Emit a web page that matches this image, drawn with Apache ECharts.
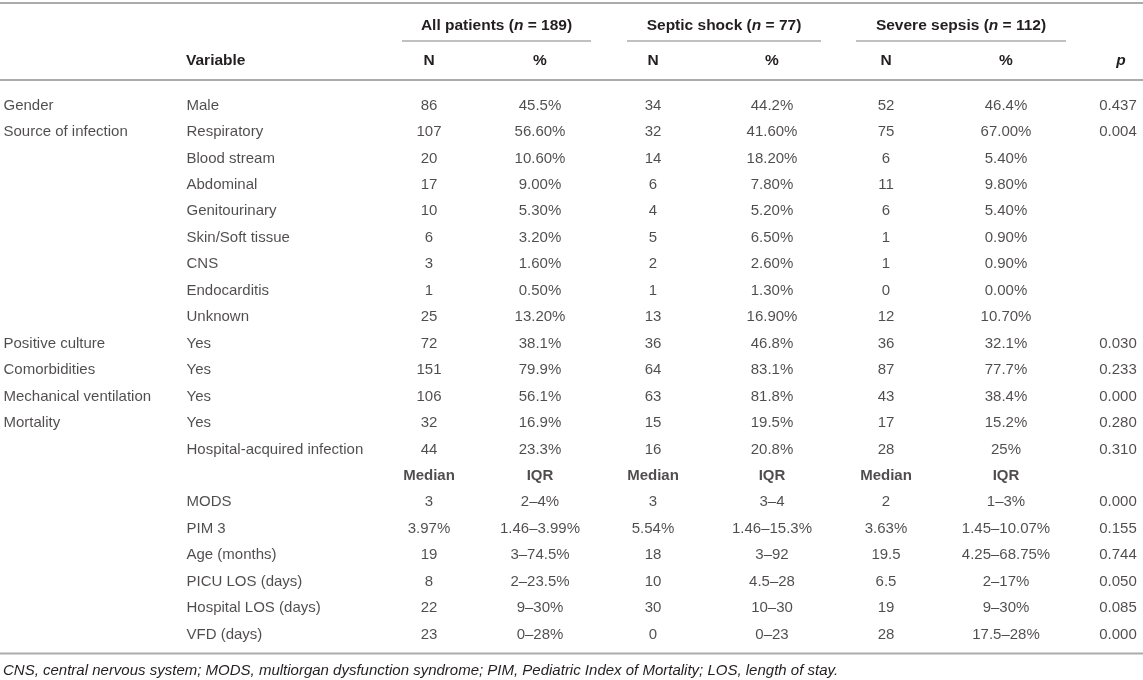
<!DOCTYPE html>
<html>
<head>
<meta charset="utf-8">
<script src="https://cdn.jsdelivr.net/npm/echarts@6/dist/echarts.min.js"></script>
<style>
html,body{margin:0;padding:0;background:#fff;}
#chart{width:1143px;height:680px;}
</style>
</head>
<body>
<div id="chart"></div>
<script>
// ---- data ----
const groupLabels = ['Gender','Source of infection','','','','','','','','Positive culture','Comorbidities','Mechanical ventilation','Mortality','','','','','','','',''];
const variables = ['Male','Respiratory','Blood stream','Abdominal','Genitourinary','Skin/Soft tissue','CNS','Endocarditis','Unknown','Yes','Yes','Yes','Yes','Hospital-acquired infection','','MODS','PIM 3','Age (months)','PICU LOS (days)','Hospital LOS (days)','VFD (days)'];
const allN = ['86','107','20','17','10','6','3','1','25','72','151','106','32','44','Median','3','3.97%','19','8','22','23'];
const allPct = ['45.5%','56.60%','10.60%','9.00%','5.30%','3.20%','1.60%','0.50%','13.20%','38.1%','79.9%','56.1%','16.9%','23.3%','IQR','2–4%','1.46–3.99%','3–74.5%','2–23.5%','9–30%','0–28%'];
const shockN = ['34','32','14','6','4','5','2','1','13','36','64','63','15','16','Median','3','5.54%','18','10','30','0'];
const shockPct = ['44.2%','41.60%','18.20%','7.80%','5.20%','6.50%','2.60%','1.30%','16.90%','46.8%','83.1%','81.8%','19.5%','20.8%','IQR','3–4','1.46–15.3%','3–92','4.5–28','10–30','0–23'];
const severeN = ['52','75','6','11','6','1','1','0','12','36','87','43','17','28','Median','2','3.63%','19.5','6.5','19','28'];
const severePct = ['46.4%','67.00%','5.40%','9.80%','5.40%','0.90%','0.90%','0.00%','10.70%','32.1%','77.7%','38.4%','15.2%','25%','IQR','1–3%','1.45–10.07%','4.25–68.75%','2–17%','9–30%','17.5–28%'];
const pValues = ['0.437','0.004','','','','','','','','0.030','0.233','0.000','0.280','0.310','','0.000','0.155','0.744','0.050','0.085','0.000'];
const boldRows = [14];
const groupHeaders = ['All patients', 'Septic shock', 'Severe sepsis'];
const groupCounts = ['189', '77', '112'];
const subHeaders = ['N', '%', 'N', '%', 'N', '%'];
const footnote = 'CNS, central nervous system; MODS, multiorgan dysfunction syndrome; PIM, Pediatric Index of Mortality; LOS, length of stay.';

// ---- layout ----
const FONT = '"Liberation Sans", Arial, Helvetica, sans-serif';
const TXT = '#231f20';
const LINE = '#ababab';
const FS = 15;
const colX = { group: 3, variable: 186, allN: 429, allPct: 540, shockN: 653, shockPct: 772, severeN: 886, severePct: 1006, p: 1118 };
const rowTop = 92.3, rowH = 26.45;
const groupSpans = [[402, 591], [627, 821], [856, 1066]];
const rowIds = variables.map((_, i) => 'r' + i);

function col(values, x, align) {
  const data = [];
  values.forEach((v, i) => {
    if (v === '') return;
    const item = { value: [x, i], text: v };
    if (boldRows.indexOf(i) >= 0) item.label = { fontWeight: 'bold' };
    data.push(item);
  });
  return {
    type: 'scatter',
    symbolSize: 1,
    itemStyle: { color: 'rgba(0,0,0,0)' },
    silent: true,
    data: data,
    label: {
      show: true,
      position: align === 'left' ? 'right' : 'inside',
      distance: 0,
      formatter: p => p.data.text,
      color: TXT,
      fontSize: FS,
      fontFamily: FONT,
      align: align === 'left' ? 'left' : 'center',
      verticalAlign: 'middle'
    }
  };
}

const chart = echarts.init(document.getElementById('chart'), null, { renderer: 'canvas' });

const graphics = [];
function hline(x1, x2, y, w) {
  graphics.push({ type: 'line', shape: { x1: x1, y1: y, x2: x2, y2: y }, style: { stroke: LINE, lineWidth: w }, silent: true });
}
hline(0, 1143, 3, 2);
hline(0, 1143, 80, 2);
hline(0, 1143, 653.5, 2);
groupSpans.forEach(s => hline(s[0], s[1], 41, 1.5));

const groupCenters = groupSpans.map(s => (s[0] + s[1]) / 2);
const HFS = 15.5;
groupHeaders.forEach((h, i) => {
  graphics.push({
    type: 'text', x: groupCenters[i], y: 26, silent: true,
    style: {
      text: '{b|' + h + ' (}{i|n}{b| = ' + groupCounts[i] + ')}',
      align: 'center', verticalAlign: 'middle', fill: TXT,
      rich: {
        b: { fontWeight: 'bold', fontSize: HFS, fontFamily: FONT, fill: TXT },
        i: { fontWeight: 'bold', fontStyle: 'italic', fontSize: HFS, fontFamily: FONT, fill: TXT }
      }
    }
  });
});
const subX = [colX.allN, colX.allPct, colX.shockN, colX.shockPct, colX.severeN, colX.severePct];
subHeaders.forEach((h, i) => {
  graphics.push({ type: 'text', x: subX[i], y: 61, silent: true,
    style: { text: h, align: 'center', verticalAlign: 'middle', fill: TXT, font: 'bold ' + HFS + 'px ' + FONT } });
});
graphics.push({ type: 'text', x: colX.variable, y: 61, silent: true,
  style: { text: 'Variable', align: 'left', verticalAlign: 'middle', fill: TXT, font: 'bold ' + HFS + 'px ' + FONT } });
graphics.push({ type: 'text', x: colX.p + 3, y: 61, silent: true,
  style: { text: 'p', align: 'center', verticalAlign: 'middle', fill: TXT, font: 'italic bold ' + HFS + 'px ' + FONT } });
graphics.push({ type: 'text', x: 3, y: 671, silent: true,
  style: { text: footnote, align: 'left', verticalAlign: 'middle', fill: TXT, font: 'italic ' + FS + 'px ' + FONT } });

chart.setOption({
  animation: false,
  backgroundColor: '#fff',
  grid: { left: 0, right: 0, top: rowTop, height: rowH * rowIds.length },
  xAxis: { type: 'value', min: 0, max: 1143, show: false },
  yAxis: { type: 'category', data: rowIds, inverse: true, show: false },
  series: [
    col(groupLabels, colX.group, 'left'),
    col(variables, colX.variable, 'left'),
    col(allN, colX.allN, 'center'),
    col(allPct, colX.allPct, 'center'),
    col(shockN, colX.shockN, 'center'),
    col(shockPct, colX.shockPct, 'center'),
    col(severeN, colX.severeN, 'center'),
    col(severePct, colX.severePct, 'center'),
    col(pValues, colX.p, 'center')
  ],
  graphic: graphics
});
</script>
</body>
</html>
